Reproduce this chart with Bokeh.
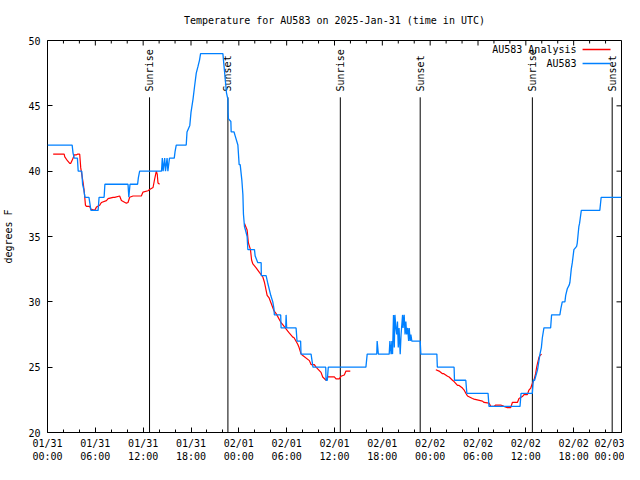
import numpy as np
import pandas as pd
from bokeh.plotting import figure
from bokeh.models import (FixedTicker, DatetimeTickFormatter, Range1d, Label)
from bokeh.embed import file_html
from bokeh.resources import INLINE
from bokeh.core.properties import value

# ---------------- data ----------------
START = pd.Timestamp("2025-01-31 00:00")
END = pd.Timestamp("2025-02-03 00:00")

# observations (hours since 2025-01-31 00:00 UTC, deg F)
obs_hours = [0, 3.09, 3.2, 3.35, 3.75, 3.85, 4.3, 4.4, 4.55, 4.7, 5.2, 5.45, 6.35, 6.47, 7.1, 7.2,
             10.1, 10.2, 10.35, 11.3, 11.4, 11.56, 14.3, 14.4, 14.5, 14.7, 14.8, 15.0, 15.1, 15.3,
             15.9, 16.0, 16.15, 17.4, 17.5, 17.85, 18.0, 18.25, 18.45, 18.66, 18.87, 19.07, 19.2,
             22.0, 22.15, 22.3, 22.45, 22.63, 22.65, 22.7, 23.0, 23.04, 23.4, 23.54, 23.88, 24.04,
             24.17, 24.38, 24.51, 24.58, 24.71, 24.83, 25.04, 25.13, 25.96, 26.05, 26.38, 26.8,
             26.82, 27.42, 27.6, 27.8, 28.0, 28.26, 28.4, 28.46, 29.25, 29.3, 29.88, 29.93, 30.0,
             31.18, 31.3, 31.75, 31.8, 33.06, 33.3, 34.9, 34.94, 35.1, 35.22, 39.94, 40.1, 41.3,
             41.35, 41.5, 42.86, 42.95, 43.1, 43.2, 43.28, 43.4, 43.5, 43.58, 43.7, 43.8, 43.9,
             44.0, 44.1, 44.24, 44.35, 44.54, 44.6, 44.74, 44.85, 44.95, 45.05, 45.17, 45.3, 45.37,
             45.5, 45.58, 45.7, 46.75, 46.83, 48.84, 48.9, 51.0, 51.05, 52.47, 52.6, 55.26, 55.38,
             59.27, 59.4, 60.82, 60.94, 61.1, 61.45, 61.52, 61.77, 61.95, 62.07, 62.27, 63.11,
             63.23, 64.27, 64.4, 64.57, 64.9, 65.0, 65.2, 65.45, 65.53, 65.7, 65.83, 66.03, 66.37,
             66.45, 66.65, 66.74, 66.96, 69.28, 69.45, 72.0]
obs_temp = [42, 42, 41.4, 41, 41, 40, 40, 39, 38.6, 38, 38, 37, 37, 38, 38, 39,
            39, 38, 39, 39, 39.5, 40, 40, 41, 40, 41, 40, 41, 40, 41,
            41, 41.5, 42, 42, 43, 43.5, 44.5, 45.5, 46.5, 47.5, 48, 48.5, 49,
            49, 48, 47, 46, 45.5, 44.5, 44, 43.8, 43, 43, 42.7, 42, 40.5,
            40.5, 39.3, 38.2, 36.7, 35.75, 35.5, 35, 34, 34, 33.5, 33, 33,
            32, 32, 31.5, 31, 30.5, 30, 29.5, 29, 29, 28, 28, 29, 28,
            28, 27, 27, 26, 26, 25, 25, 24, 24, 25, 25, 26, 26,
            27, 26, 26, 27, 26, 27, 26, 29, 26.5, 29, 28, 27.5, 28.5,
            26.5, 28, 26, 27.5, 29, 28, 29, 27.5, 28.5, 27.5, 28, 27, 28,
            27, 27.5, 27, 27, 26, 26, 25, 25, 24, 24, 23, 23, 22,
            22, 23, 23, 24, 24, 24.75, 25, 26, 26.5, 27.25, 28, 28,
            29, 29, 29.5, 30, 30, 30.5, 31, 31.3, 31.5, 32.5, 33, 34, 34.25,
            34.5, 35.75, 36, 37, 37, 38, 38]

# analysis, three separate runs
ana1_hours = [0.71, 2.09, 2.17, 2.5, 2.79, 2.92, 3.22, 3.34, 3.63, 3.76, 4.04, 4.17, 4.47, 4.6,
              4.76, 4.88, 5.3, 5.42, 5.92, 6.14, 6.55, 6.76, 7.39, 7.6, 8.23, 8.43, 9.05, 9.27,
              9.89, 10.1, 10.31, 10.73, 10.93, 11.77, 11.98, 12.61, 12.81, 13.24, 13.44, 13.65,
              13.77, 13.86, 14.06]
ana1_temp = [41.3, 41.3, 41.1, 40.8, 40.6, 40.6, 41.0, 41.25, 41.25, 41.3, 41.3, 40.25, 39.1, 38.5,
             37.4, 37.3, 37.3, 37.1, 37.0, 37.25, 37.4, 37.6, 37.75, 37.9, 38.0, 38.0, 38.1, 37.75,
             37.55, 37.6, 38.0, 38.1, 38.1, 38.1, 38.4, 38.5, 38.6, 38.75, 39.4, 40.0,
             39.75, 39.1, 39.0]
ana2_hours = [24.71, 25.04, 25.2, 25.46, 25.6, 25.76, 26.17, 26.58, 27.01, 27.21, 27.55, 27.8,
              28.42, 28.68, 29.3, 29.51, 30.14, 30.34, 30.77, 30.93, 31.39, 31.56, 31.81, 32.02,
              32.85, 33.06, 33.47, 33.68, 34.31, 34.52, 34.94, 35.15, 35.98, 36.19, 36.6, 36.81,
              37.23, 37.44, 37.98]
ana2_temp = [36, 35.5, 34.5, 34, 33.2, 32.9, 32.6, 32.25, 31.9, 31.5, 30.5, 30.3,
             29.3, 29.1, 28.4, 28.25, 27.75, 27.6, 27.3, 27.25, 26.75, 26.5, 26.0, 25.9,
             25.5, 25.2, 25.2, 25.0, 24.6, 24.25, 24.0, 24.25, 24.25, 24.1, 24.1, 24.3,
             24.4, 24.7, 24.7]
ana3_hours = [48.71, 49.12, 49.55, 49.71, 50.18, 50.38, 50.8, 51.0, 51.43, 51.63, 52.05, 52.26,
              52.47, 52.68, 53.31, 53.51, 54.56, 54.76, 55.38, 55.6, 56.01, 56.22, 56.85, 57.26,
              57.69, 58.1, 58.31, 58.94, 59.14, 59.57, 59.77, 60.19, 60.39, 60.61, 60.82, 61.02,
              61.23, 61.36, 61.45, 61.65, 61.77, 61.98]
ana3_temp = [24.8, 24.7, 24.5, 24.5, 24.3, 24.25, 24.0, 23.9, 23.6, 23.6, 23.4, 23.25,
             23.0, 22.8, 22.6, 22.55, 22.4, 22.3, 22.25, 22.0, 22.0, 22.1, 22.1, 22.0,
             21.9, 21.9, 22.3, 22.3, 22.6, 22.75, 22.9, 22.9, 23.25, 23.4, 23.75, 24.0,
             24.5, 25.0, 25.25, 25.75, 25.9, 26.0]

sunrise_hours = [12.8, 36.73, 60.82]
sunset_hours = [22.63, 46.75, 70.83]

x_major_hours = list(range(0, 73, 6))
x_minor_hours = [h for h in range(0, 73, 2) if h % 6 != 0]
y_ticks = [20, 25, 30, 35, 40, 45, 50]
Y_MIN, Y_MAX = 20, 50

title_text = "Temperature for AU583 on 2025-Jan-31 (time in UTC)"
y_label = "degrees F"
legend_labels = ["AU583 Analysis", "AU583"]

# ---------------- helpers ----------------
def to_dt(hours):
    return START + pd.to_timedelta(np.asarray(hours, dtype=float), unit="h")

def to_ms(hours):
    return [float((START + pd.Timedelta(hours=h)).value // 10**6) for h in hours]

FONT = "DejaVu Sans Mono"
BLUE = "#0080ff"
RED = "#ff0000"

W, H = 624, 464
BL, BR, BT, BB = 46, 3, 40, 32
FW, FH = W - BL - BR, H - BT - BB
SPAN_H = (END - START) / pd.Timedelta(hours=1)
DX_H = SPAN_H / FW              # hours per screen pixel
DY = (Y_MAX - Y_MIN) / FH       # deg F per screen pixel
MAJ, MIN = 5, 3                 # tick lengths (px)

p = figure(width=W, height=H, output_backend="svg", toolbar_location=None,
           x_axis_type="datetime",
           x_range=Range1d(START, END), y_range=Range1d(Y_MIN, Y_MAX),
           min_border_left=BL, min_border_right=BR, min_border_top=BT, min_border_bottom=BB)
p.background_fill_color = "white"
p.border_fill_color = "white"
p.outline_line_color = "black"
p.outline_line_width = 1
p.xgrid.visible = False
p.ygrid.visible = False

# title
p.title.text = title_text
p.title.align = "center"
p.title.vertical_align = "top"
p.title.text_font = FONT
p.title.text_font_size = "10px"
p.title.text_font_style = "normal"
p.title.text_color = "black"
p.title.standoff = 26

# ticks
xticker = FixedTicker(ticks=to_ms(x_major_hours), minor_ticks=to_ms(x_minor_hours))
yticker = FixedTicker(ticks=y_ticks, minor_ticks=[])
fmt = "%m/%d\n%H:%M"
xfmt = DatetimeTickFormatter(microseconds=fmt, milliseconds=fmt, seconds=fmt, minsec=fmt,
                             minutes=fmt, hourmin=fmt, hours=fmt, days=fmt, months=fmt, years=fmt)

xa = p.xaxis[0]
xa.ticker = xticker
xa.formatter = xfmt
ya = p.yaxis[0]
ya.ticker = yticker
for ax in (xa, ya):
    ax.axis_line_color = None
    ax.major_tick_in = MAJ
    ax.major_tick_out = 0
    ax.minor_tick_in = MIN
    ax.minor_tick_out = 0
    ax.major_tick_line_color = "black"
    ax.minor_tick_line_color = "black"
    ax.major_label_text_font = FONT
    ax.major_label_text_font_size = "10px"
    ax.major_label_text_color = "black"
xa.major_label_standoff = 5
ya.major_label_standoff = 7
ya.axis_label = y_label
ya.axis_label_text_font = FONT
ya.axis_label_text_font_size = "10px"
ya.axis_label_text_font_style = "normal"
ya.axis_label_text_color = "black"
ya.axis_label_standoff = 11

# mirrored inward ticks on the top and right edges (drawn from the tick lists)
top_major = to_dt(x_major_hours)
top_minor = to_dt(x_minor_hours)
p.segment(x0=top_major, y0=[Y_MAX] * len(top_major), x1=top_major,
          y1=[Y_MAX - MAJ * DY] * len(top_major), line_color="black", line_width=1)
p.segment(x0=top_minor, y0=[Y_MAX] * len(top_minor), x1=top_minor,
          y1=[Y_MAX - MIN * DY] * len(top_minor), line_color="black", line_width=1)
p.segment(x0=to_dt([SPAN_H - MAJ * DX_H] * len(y_ticks)), y0=y_ticks,
          x1=to_dt([SPAN_H] * len(y_ticks)), y1=y_ticks, line_color="black", line_width=1)

# sunrise / sunset markers
SUN_LINE_TOP = 45.65
SUN_LABEL_Y = 46.1
sun_hours = sunrise_hours + sunset_hours
sun_text = ["Sunrise"] * len(sunrise_hours) + ["Sunset"] * len(sunset_hours)
sun_dt = to_dt(sun_hours)
p.segment(x0=sun_dt, y0=[Y_MIN] * len(sun_hours), x1=sun_dt, y1=[SUN_LINE_TOP] * len(sun_hours),
          line_color="black", line_width=1)
p.text(x=sun_dt, y=[SUN_LABEL_Y] * len(sun_hours), text=sun_text, angle=np.pi / 2,
       text_align="left", text_baseline="middle", text_font=value(FONT),
       text_font_size="10px", text_color="black")

# analysis (red) with gaps between runs
ana_h = ana1_hours + [ana1_hours[-1]] + ana2_hours + [ana2_hours[-1]] + ana3_hours
ana_t = ana1_temp + [np.nan] + ana2_temp + [np.nan] + ana3_temp
p.line(to_dt(ana_h), ana_t, line_color=RED, line_width=1.2)

# observations (blue)
p.line(to_dt(obs_hours), obs_temp, line_color=BLUE, line_width=1.3)

# gnuplot-style key (text right-aligned, sample to the right), frame-relative pixels
key_rows = [(legend_labels[0], RED, FH - 9), (legend_labels[1], BLUE, FH - 23)]
for label, color, sy in key_rows:
    p.add_layout(Label(x=FW - 46, y=sy, x_units="screen", y_units="screen", text=label,
                       text_align="right", text_baseline="middle", text_font=FONT,
                       text_font_size="10px", text_color="black"))
    hx = [(FW - 39) * DX_H, (FW - 11) * DX_H]
    vy = Y_MIN + sy * DY
    p.line(to_dt(hx), [vy, vy], line_color=color, line_width=1.3)

open("out.html", "w").write(file_html(p, INLINE))
